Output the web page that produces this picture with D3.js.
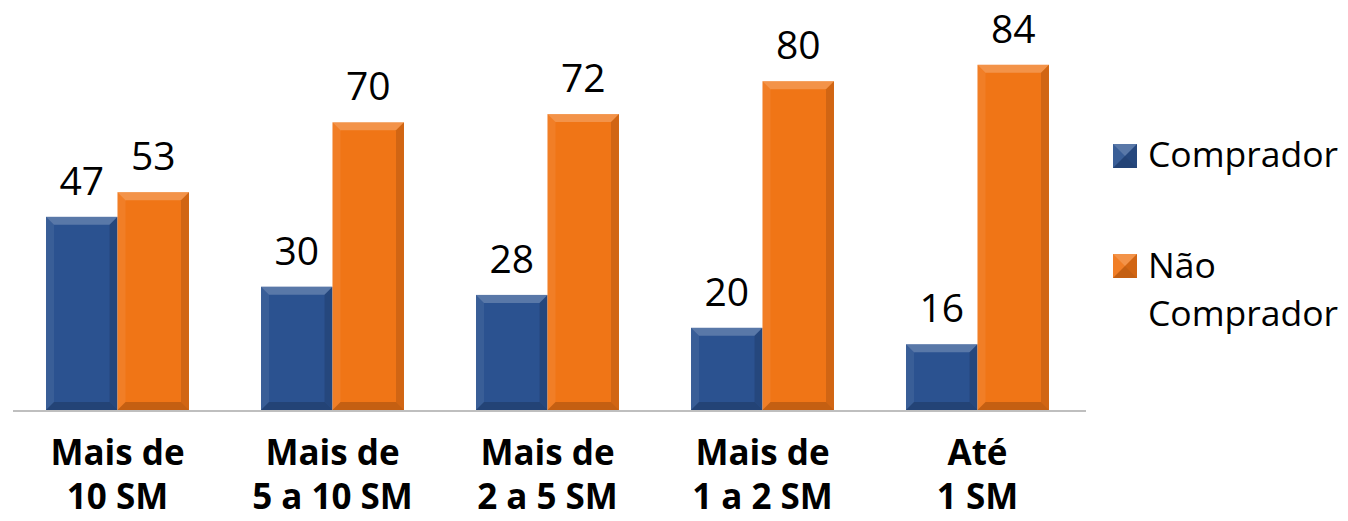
<!DOCTYPE html>
<html>
<head>
<meta charset="utf-8">
<script src="https://cdn.jsdelivr.net/npm/d3@7"></script>
<style>
  body { margin: 0; background: #fff; }
  svg { display: block; font-family: "Open Sans", sans-serif; }
</style>
</head>
<body>
<svg width="1348" height="521"></svg>
<script>
const categories = [
  ['Mais de', '10 SM'],
  ['Mais de', '5 a 10 SM'],
  ['Mais de', '2 a 5 SM'],
  ['Mais de', '1 a 2 SM'],
  ['Até', '1 SM']
];
const series = ['Comprador', 'Não Comprador'];
const comprador = [47, 30, 28, 20, 16];
const naoComprador = [53, 70, 72, 80, 84];
const colors = ['#2b5290', '#f07516'];

const svg = d3.select('svg');

const baseY = 410;
const x0 = d3.scaleBand()
  .domain(d3.range(categories.length))
  .range([10, 1085])
  .paddingInner(0.335)
  .paddingOuter(0.1675);
const x1 = d3.scaleBand().domain(series).range([0, x0.bandwidth()]);
const y = d3.scaleLinear().domain([0, 100]).range([baseY, -1]);

const data = [];
categories.forEach((c, i) => {
  data.push({ i, s: series[0], v: comprador[i] });
  data.push({ i, s: series[1], v: naoComprador[i] });
});

// bar with bevelled edges
function bevel(g, x, yy, w, h, b, fill) {
  g.append('rect').attr('x', x).attr('y', yy).attr('width', w).attr('height', h).attr('fill', fill);
  const faces = [
    [[x, yy], [x + w, yy], [x + w - b, yy + b], [x + b, yy + b], 'rgba(255,255,255,0.22)'],
    [[x, yy], [x + b, yy + b], [x + b, yy + h - b], [x, yy + h], 'rgba(255,255,255,0.07)'],
    [[x + w, yy], [x + w, yy + h], [x + w - b, yy + h - b], [x + w - b, yy + b], 'rgba(0,0,0,0.13)'],
    [[x, yy + h], [x + b, yy + h - b], [x + w - b, yy + h - b], [x + w, yy + h], 'rgba(0,0,0,0.18)']
  ];
  faces.forEach(f => {
    g.append('polygon')
      .attr('points', f.slice(0, 4).map(p => p.join(',')).join(' '))
      .attr('fill', f[4]);
  });
}

const bars = svg.append('g');
data.forEach(d => {
  const x = x0(d.i) + x1(d.s);
  bevel(bars, x, y(d.v), x1.bandwidth(), baseY - y(d.v), 8, colors[series.indexOf(d.s)]);
});

// value labels
svg.append('g').selectAll('text')
  .data(data)
  .enter()
  .append('text')
  .attr('x', d => x0(d.i) + x1(d.s) + x1.bandwidth() / 2)
  .attr('y', d => y(d.v) - 22)
  .attr('text-anchor', 'middle')
  .attr('font-size', 39)
  .attr('fill', '#000')
  .text(d => d.v);

// axis line
svg.append('line')
  .attr('x1', 13).attr('x2', 1086)
  .attr('y1', baseY + 1).attr('y2', baseY + 1)
  .attr('stroke', '#bfbfbf').attr('stroke-width', 2);

// category labels
const cat = svg.append('g').selectAll('text')
  .data(categories)
  .enter()
  .append('text')
  .attr('text-anchor', 'middle')
  .attr('font-size', 35)
  .attr('font-weight', 'bold');
cat.append('tspan')
  .attr('x', (d, i) => x0(i) + x0.bandwidth() / 2)
  .attr('y', 465)
  .text(d => d[0]);
cat.append('tspan')
  .attr('x', (d, i) => x0(i) + x0.bandwidth() / 2)
  .attr('y', 509)
  .text(d => d[1]);

// legend
const legend = svg.append('g');
bevel(legend, 1113, 144, 24, 24, 12, colors[0]);
bevel(legend, 1113, 254, 24, 24, 12, colors[1]);
legend.append('text').attr('x', 1148).attr('y', 167).attr('font-size', 35.5).text(series[0]);
const l2 = legend.append('text').attr('font-size', 35.5);
l2.append('tspan').attr('x', 1148).attr('y', 278).text('Não');
l2.append('tspan').attr('x', 1148).attr('y', 326).text('Comprador');
</script>
</body>
</html>
